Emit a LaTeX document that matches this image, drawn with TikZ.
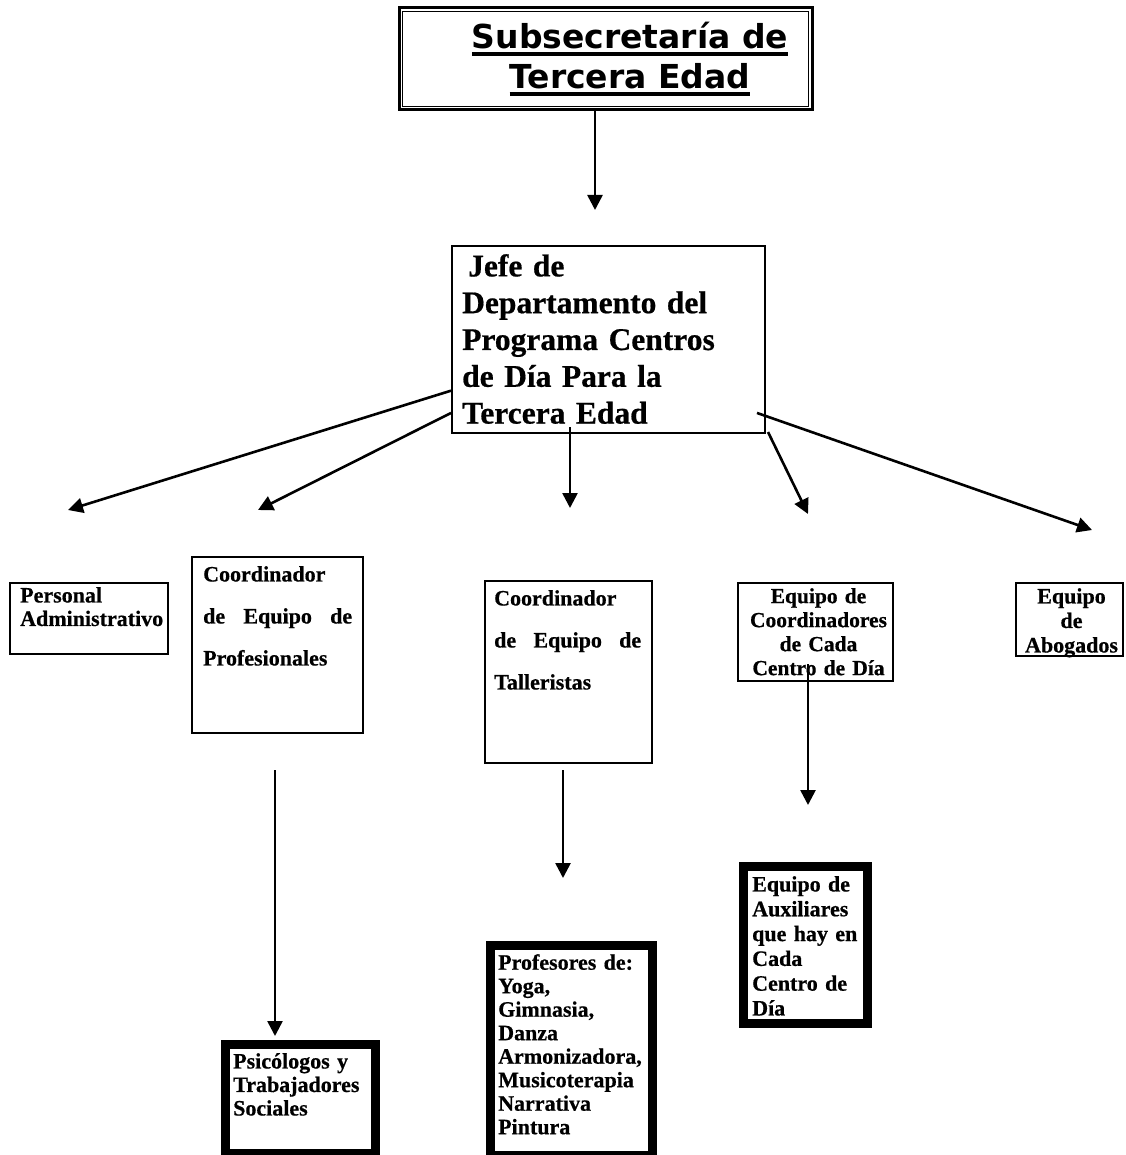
\documentclass[tikz,border=0pt]{standalone}
\usepackage{fontspec}
\setmainfont{Liberation Serif}[BoldFeatures={FakeBold=0.6}]
\newfontfamily\titlefont{DejaVu Sans}
\usetikzlibrary{positioning,arrows.meta}

\newcommand{\titleul}[1]{\setbox0\hbox{#1}\rlap{\rule[-7pt]{\wd0}{3.2pt}}\box0}

\tikzset{
    plainbox/.style={draw, line width=2pt, inner sep=0pt, anchor=north west},
    heavybox/.style={draw, line width=9pt, inner sep=0pt, anchor=north west},
    smalltxt/.style={inner sep=0pt, font=\bfseries\fontsize{22}{23.5}\selectfont},
    arr/.style={line width=2.6pt, -{Triangle[length=15pt,width=15pt]}}
}

\begin{document}
\begin{tikzpicture}[x=1pt, y=-1pt]
    \useasboundingbox (0,0) rectangle (1125,1155);

    \node[draw, line width=3pt, inner sep=0pt, anchor=north west, minimum width=413pt, minimum height=102pt] (sub) at (397.5,6.5) {};
    \draw[line width=1.3pt] ([shift={(5pt,-5pt)}]sub.north west) rectangle ([shift={(-5pt,5pt)}]sub.south east);
    \node[inner sep=0pt, align=center, font=\titlefont\bfseries\fontsize{33}{40}\selectfont] (subT) at (630,59) {\titleul{Subsecretaría de}\\\titleul{Tercera Edad}};

    \node[plainbox, minimum width=313pt, minimum height=187pt] (jefe) at (451,245) {};
    \node[inner sep=0pt, text width=300pt, align=left, font=\bfseries\fontsize{31.5}{36.8}\selectfont, below right=9pt and 11pt of jefe.north west] (jefeT) {\hspace*{6pt}Jefe de\\Departamento del\\Programa Centros\\de Día Para la\\Tercera Edad};

    \node[plainbox, minimum width=158pt, minimum height=71pt] (admin) at (9,582) {};
    \node[smalltxt, text width=150pt, align=left, below right=5pt and 11pt of admin.north west] (adminT) {Personal\\Administrativo};

    \node[plainbox, minimum width=171pt, minimum height=176pt] (coordprof) at (191,556) {};
    \node[smalltxt, text width=149pt, align=left, font=\bfseries\fontsize{22}{42}\selectfont, below right=10pt and 12pt of coordprof.north west] (coordprofT) {Coordinador\\de\hfill Equipo\hfill de\\Profesionales};

    \node[plainbox, minimum width=167pt, minimum height=182pt] (coordtall) at (484,580) {};
    \node[smalltxt, text width=147pt, align=left, font=\bfseries\fontsize{22}{42}\selectfont, below right=10pt and 10pt of coordtall.north west] (coordtallT) {Coordinador\\de\hfill Equipo\hfill de\\Talleristas};

    \node[plainbox, minimum width=155pt, minimum height=98pt] (eqcoord) at (737,582) {};
    \node[smalltxt, text width=155pt, align=center, font=\bfseries\fontsize{21.5}{24}\selectfont, below=6pt of eqcoord.north, xshift=3pt] (eqcoordT) {Equipo de\\Coordinadores\\de Cada\\Centro de Día};

    \node[plainbox, minimum width=107pt, minimum height=73pt] (abog) at (1015,582) {};
    \node[smalltxt, text width=107pt, align=center, font=\bfseries\fontsize{22}{24.5}\selectfont, below=6pt of abog.north, xshift=2pt] (abogT) {Equipo\\de\\Abogados};

    \node[heavybox, minimum width=150pt, minimum height=109pt] (psico) at (221,1040) {};
    \node[smalltxt, text width=140pt, align=left, below right=13pt and 12pt of psico.north west] (psicoT) {Psicólogos y\\Trabajadores\\Sociales};

    \node[heavybox, minimum width=162pt, minimum height=210pt] (profes) at (486,941) {};
    \node[smalltxt, text width=160pt, align=left, below right=13pt and 12pt of profes.north west] (profesT) {Profesores de:\\Yoga,\\Gimnasia,\\Danza\\Armonizadora,\\Musicoterapia\\Narrativa\\Pintura};

    \node[heavybox, minimum width=124pt, minimum height=157pt] (aux) at (739,862) {};
    \node[smalltxt, text width=120pt, align=left, font=\bfseries\fontsize{22}{24.8}\selectfont, below right=14pt and 13pt of aux.north west] (auxT) {Equipo de\\Auxiliares\\que hay en\\Cada\\Centro de\\Día};

    \foreach \n in {psico,profes,aux}
        \draw[line width=1.5pt] ([shift={(7pt,-7pt)}]\n.north west) rectangle ([shift={(-7pt,7pt)}]\n.south east);

    \coordinate (t1) at (595,210);
    \coordinate (t2) at (68,510);
    \coordinate (t3) at (258,510);
    \coordinate (t4) at (570,508);
    \coordinate (t5) at (808,514);
    \coordinate (t6) at (1092,530);
    \coordinate (s7) at (275,770);
    \coordinate (s8) at (563,770);
    \coordinate (t8) at (563,878);
    \coordinate (t9) at (808,805);

    \draw[arr] (sub.south -| t1) -- (t1);
    \draw[arr] (jefe.198.2) -- (t2);
    \draw[arr] (jefe.205.5) -- (t3);
    \draw[arr] ([yshift=7pt]jefe.south -| t4) -- (t4);
    \draw[arr] ([shift={(2pt,2pt)}]jefe.south east) -- (t5);
    \draw[arr] ([xshift=-9pt]jefe.335) -- (t6);
    \draw[arr, shorten >=4pt] (s7) -- (s7 |- psico.north);
    \draw[arr] (s8) -- (t8);
    \draw[arr] ([yshift=18pt]eqcoord.south -| t9) -- (t9);
\end{tikzpicture}
\end{document}
